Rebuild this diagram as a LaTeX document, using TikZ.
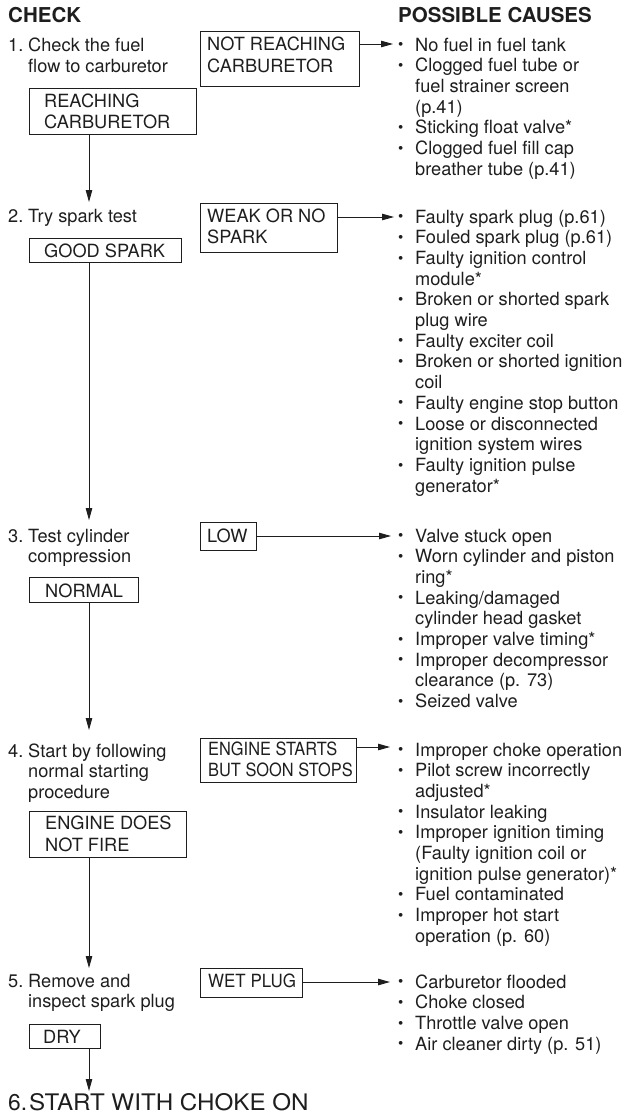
\documentclass[tikz,border=0pt]{standalone}
\usepackage{fontspec}
\setmainfont{TeX Gyre Heros}
\usetikzlibrary{arrows.meta}
\definecolor{ink}{HTML}{1E1E1E}
\newcommand{\bul}{\makebox[17pt][l]{\raisebox{1.4pt}{\fontsize{15}{15}\selectfont\textbullet}}}
\newcommand{\ind}{\makebox[17pt]{}}
\newcommand{\cond}[1]{\scalebox{0.9}[1]{#1}}
\begin{document}
\begin{tikzpicture}[x=1pt,y=-1pt,
  txt/.style={anchor=base west, inner sep=0pt, align=left, text=ink, font=\fontsize{18.2}{20.7}\selectfont},
  btxt/.style={txt, font=\fontsize{18.2}{21.5}\selectfont},
  bigtxt/.style={txt, font=\fontsize{22.8}{26}\selectfont},
  head/.style={anchor=base west, inner sep=0pt, text=ink, font=\bfseries\fontsize{20.5}{24}\selectfont},
  box/.style={draw=ink, line width=0.9pt, anchor=north west, inner sep=0pt},
  arr/.style={draw=ink, line width=0.9pt, -{Triangle[length=12pt,width=6.5pt]}}]
\useasboundingbox (0,0) rectangle (629,1116);
% multi-line nodes are placed at the baseline of their last line:
% first baseline + (lines-1) * line pitch

% headings
\node[head] (hc) at (8,23) {CHECK};
\node[head] (hp) at (398,23) {POSSIBLE CAUSES};

% step texts
\node[txt] (n1) at (8,52) {1.};
\node[txt] (s1) at (28,{52+20.7}) {Check the fuel\\flow to carburetor};
\node[txt] (n2) at (8,222) {2.};
\node[txt] (s2) at (28,222) {Try spark test};
\node[txt] (n3) at (8,542) {3.};
\node[txt] (s3) at (28,{542+20.7}) {Test cylinder\\compression};
\node[txt] (n4) at (8,757) {4.};
\node[txt] (s4) at (28,{757+2*20.7}) {Start by following\\normal starting\\procedure};
\node[txt] (n5) at (8,987) {5.};
\node[txt] (s5) at (28,{987+20.7}) {Remove and\\inspect spark plug};
\node[bigtxt] (n6) at (8,1110) {6.};
\node[bigtxt] (s6) at (29,1110) {\scalebox{1.06}[1]{START WITH CHOKE ON}};

% boxes
\node[box, minimum width=159pt, minimum height=55pt] (bNR) at (200,31) {};
\node[btxt] (tNR) at (207,{51+21.5}) {NOT REACHING\\CARBURETOR};
\node[box, minimum width=167pt, minimum height=46pt] (bR) at (29,88) {};
\node[btxt] (tR) at (44,{107+21.5}) {REACHING\\CARBURETOR};
\node[box, minimum width=137pt, minimum height=49pt] (bW) at (200,203) {};
\node[btxt] (tW) at (207,{222+21.5}) {WEAK OR NO\\SPARK};
\node[box, minimum width=152pt, minimum height=24pt] (bG) at (29,238) {};
\node[btxt] (tG) at (44,257) {GOOD SPARK};
\node[box, minimum width=56pt, minimum height=28pt] (bL) at (200,522) {};
\node[btxt] (tL) at (207,542) {LOW};
\node[box, minimum width=109pt, minimum height=25pt] (bN) at (29,577) {};
\node[btxt] (tN) at (45,597) {NORMAL};
\node[box, minimum width=156pt, minimum height=44pt] (bE) at (200,738) {};
\node[btxt] (tE) at (208,{757+19.5}) {\cond{ENGINE STARTS}\\\cond{BUT SOON STOPS}};
\node[box, minimum width=157pt, minimum height=46pt] (bD) at (29,811) {};
\node[btxt] (tD) at (45,{830+21}) {ENGINE DOES\\NOT FIRE};
\node[box, minimum width=102pt, minimum height=29pt] (bWP) at (200,968) {};
\node[btxt] (tWP) at (208,987) {\scalebox{0.93}[1]{WET PLUG}};
\node[box, minimum width=71pt, minimum height=24pt] (bDr) at (29,1024) {};
\node[btxt] (tDr) at (43,1043) {DRY};

% causes
\node[txt] (c1) at (398,{51+6*20.7}) {\bul No fuel in fuel tank\\
\bul Clogged fuel tube or\\
\ind fuel strainer screen\\
\ind (p.41)\\
\bul Sticking float valve*\\
\bul Clogged fuel fill cap\\
\ind breather tube (p.41)};
\node[txt] (c2) at (398,{223+13*20.7}) {\bul Faulty spark plug (p.61)\\
\bul Fouled spark plug (p.61)\\
\bul Faulty ignition control\\
\ind module*\\
\bul Broken or shorted spark\\
\ind plug wire\\
\bul Faulty exciter coil\\
\bul Broken or shorted ignition\\
\ind coil\\
\bul Faulty engine stop button\\
\bul Loose or disconnected\\
\ind ignition system wires\\
\bul Faulty ignition pulse\\
\ind generator*};
\node[txt] (c3) at (398,{542+8*20.7}) {\bul Valve stuck open\\
\bul Worn cylinder and piston\\
\ind ring*\\
\bul Leaking/damaged\\
\ind cylinder head gasket\\
\bul Improper valve timing*\\
\bul Improper decompressor\\
\ind clearance (p. 73)\\
\bul Seized valve};
\node[txt] (c4) at (398,{756+9*20.7}) {\bul Improper choke operation\\
\bul Pilot screw incorrectly\\
\ind adjusted*\\
\bul Insulator leaking\\
\bul Improper ignition timing\\
\ind (Faulty ignition coil or\\
\ind ignition pulse generator)*\\
\bul Fuel contaminated\\
\bul Improper hot start\\
\ind operation (p. 60)};
\node[txt] (c5) at (398,{988+3*20.7}) {\bul Carburetor flooded\\
\bul Choke closed\\
\bul Throttle valve open\\
\bul Air cleaner dirty (p. 51)};

% horizontal arrows
\coordinate (h1) at (393,44);
\coordinate (h2) at (394,217);
\coordinate (h3) at (391,536);
\coordinate (h4) at (390,747);
\coordinate (h5) at (390,982);
\draw[arr] (bNR.east |- h1) -- (h1);
\draw[arr] (bW.east |- h2) -- (h2);
\draw[arr] (bL.east |- h3) -- (h3);
\draw[arr] (bE.east |- h4) -- (h4);
\draw[arr] (bWP.east |- h5) -- (h5);

% vertical arrows
\coordinate (v1) at (89,202);
\coordinate (v2) at (89,520);
\coordinate (v3) at (89,730);
\coordinate (v4) at (89,968);
\coordinate (v5) at (89,1091);
\draw[arr] (bR.south -| v1) -- (v1);
\draw[arr] (bG.south -| v2) -- (v2);
\draw[arr] (bN.south -| v3) -- (v3);
\draw[arr] (bD.south -| v4) -- (v4);
\draw[arr] (bDr.south -| v5) -- (v5);
\end{tikzpicture}
\end{document}
